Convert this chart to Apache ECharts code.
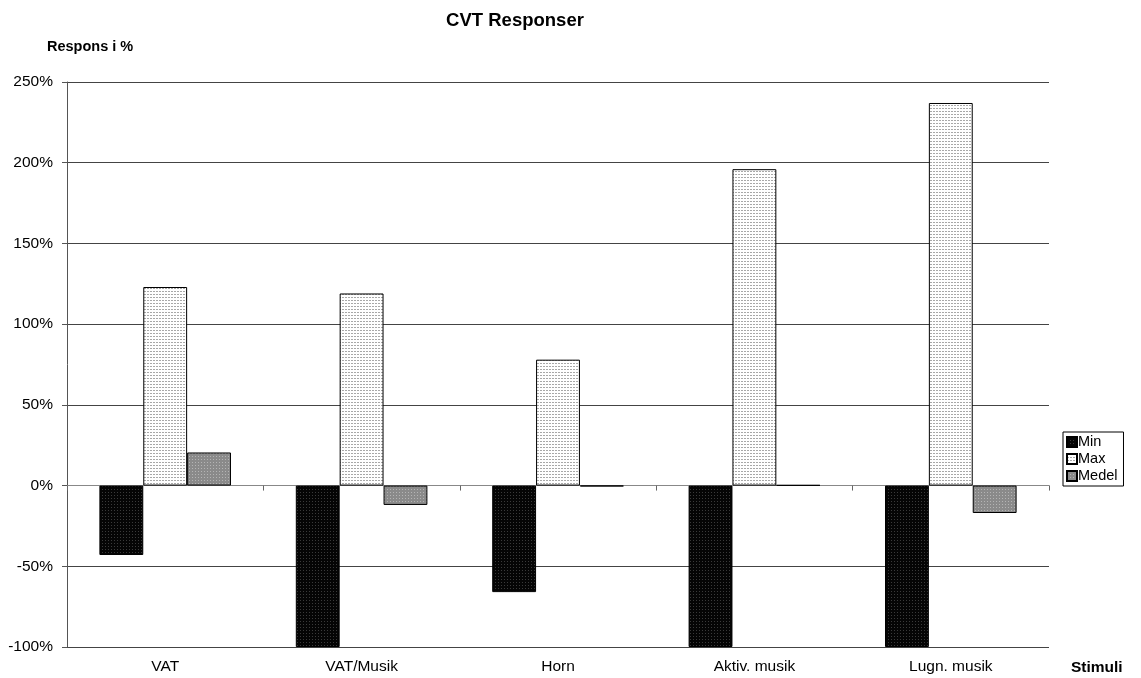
<!DOCTYPE html>
<html>
<head>
<meta charset="utf-8">
<script src="https://cdn.jsdelivr.net/npm/echarts@6/dist/echarts.min.js"></script>
<style>
  html, body { margin: 0; padding: 0; background: #fff; }
  #chart { width: 1141px; height: 678px; }
</style>
</head>
<body>
<div id="chart"></div>
<script>
// Stimulus categories and CVT response (percent) per series
const categories = ['VAT', 'VAT/Musik', 'Horn', 'Aktiv. musik', 'Lugn. musik'];
const minValues = [-43, -100, -66, -100, -100];
const maxValues = [123, 119, 78, 196, 237];
const medelValues = [20.5, -12, -0.5, 0.3, -17];
const yTicks = { min: -100, max: 250, step: 50 };

// Small dotted fill textures for the bars
function makePattern(bg, dot, w, h, pts) {
  const c = document.createElement('canvas');
  c.width = w; c.height = h;
  const g = c.getContext('2d');
  g.fillStyle = bg; g.fillRect(0, 0, w, h);
  g.fillStyle = dot;
  pts.forEach(p => g.fillRect(p[0], p[1], 1, 1));
  return { image: c, repeat: 'repeat' };
}
const minFill = makePattern('#050505', '#3a3a3a', 3, 3, [[0, 0]]);
const maxFill = makePattern('#ffffff', '#a8a8a8', 3, 3, [[0, 0], [1, 0]]);
const medelFill = makePattern('#8a8a8a', '#b4b4b4', 3, 3, [[0, 0]]);

const font = '"Liberation Sans", Arial, sans-serif';
const chart = echarts.init(document.getElementById('chart'), null, { renderer: 'canvas' });

function bar(name, data, fill) {
  return {
    name, type: 'bar', data, xAxisIndex: 0,
    barGap: '0%', barCategoryGap: '33%',
    itemStyle: { color: fill, borderColor: '#000', borderWidth: 1 },
    emphasis: { disabled: true }
  };
}

const boldText = size => ({ fontSize: size, fontWeight: 'bold', color: '#000', fontFamily: font });

chart.setOption({
  animation: false,
  textStyle: { fontFamily: font },
  title: [
    { text: 'CVT Responser', left: 515, top: 11, textAlign: 'center', padding: 0, textStyle: boldText(18.5) },
    { text: 'Respons i %', left: 47, top: 39, padding: 0, textStyle: boldText(14.5) },
    { text: 'Stimuli', left: 1071, top: 660, padding: 0, textStyle: boldText(15.5) }
  ],
  legend: {
    orient: 'vertical', left: 1063, top: 432,
    itemWidth: 10, itemHeight: 10, itemGap: 1, icon: 'rect',
    padding: [2, 6, 2, 3],
    borderColor: '#000', borderWidth: 1,
    textStyle: { fontSize: 14.5, lineHeight: 16, color: '#000', fontFamily: font, padding: [0, 0, 0, -4] },
    data: ['Min', 'Max', 'Medel']
  },
  grid: { left: 67, right: 92, top: 82, bottom: 31, containLabel: false },
  xAxis: [
    {
      type: 'category', data: categories, position: 'bottom',
      axisLine: { onZero: true, lineStyle: { color: '#888', width: 1 } },
      axisTick: { show: true, length: 5, lineStyle: { color: '#666' } },
      axisLabel: { show: false }
    },
    {
      type: 'category', data: categories, position: 'bottom',
      axisLine: { show: false, onZero: false },
      axisTick: { show: false },
      axisLabel: { show: true, fontSize: 15.5, color: '#000', margin: 12, fontFamily: font }
    }
  ],
  yAxis: {
    type: 'value', min: yTicks.min, max: yTicks.max, interval: yTicks.step,
    axisLine: { show: true, lineStyle: { color: '#555' } },
    axisTick: { show: true, length: 5, lineStyle: { color: '#555' } },
    axisLabel: { formatter: v => v + '%', fontSize: 15.5, color: '#000', margin: 14, fontFamily: font },
    splitLine: { show: true, lineStyle: { color: '#444', width: 1 } }
  },
  series: [
    bar('Min', minValues, minFill),
    bar('Max', maxValues, maxFill),
    bar('Medel', medelValues, medelFill)
  ]
});
</script>
</body>
</html>
